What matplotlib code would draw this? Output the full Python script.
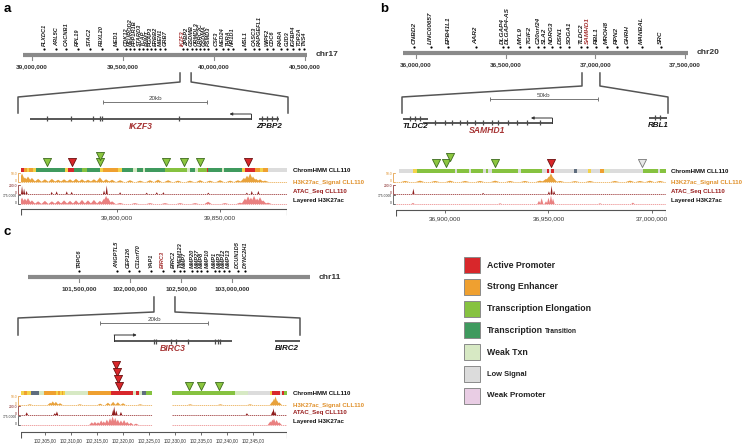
#!/usr/bin/env python3
"""
Chromatin state / signal track figure for the IKZF3 (a), SAMHD1 (b) and
BIRC3 (c) loci in CLL110, redrawn with matplotlib. Saves out.png.
"""

import matplotlib
matplotlib.use("Agg")
import matplotlib.pyplot as plt
from matplotlib.patches import Rectangle

plt.rcParams['font.family'] = ['Liberation Sans', 'DejaVu Sans']

W, H = 745, 444

# chromatin states (legend order)
STATE_NAMES = ["Active Promoter", "Strong Enhancer", "Transcription Elongation",
               "Transcription Transition", "Weak Txn", "Low Signal", "Weak Promoter"]
STATE_KEYS = ["AP", "SE", "TE", "TT", "WT", "LS", "WP"]
STATE_COLORS = {"AP": "#d8272b", "SE": "#efa030", "TE": "#86c240", "TT": "#3f9a5e",
                "WT": "#d7e9c4", "LS": "#dcdcdc", "WP": "#e9cde4",
                "WE": "#f3d34a", "OT": "#5f6d7e"}
MARK_COLORS = {"g": ("#8cc63f", "#3d6b1f"), "r": ("#d9262a", "#6b0f0f"),
               "n": ("#e8e8e8", "#777777")}
FOCUS = "#a73535"
H3_COL, ATAC_COL, LAY_COL = "#e8a23c", "#8e1b1b", "#e98080"

# ---------------- panel a : chr17 / IKZF3 ----------------
a_chrom = "chr17"
a_chrom_span = (38.950, 40.511)  # Mb
a_chrom_ticks = [39.0, 39.5, 40.0, 40.5]
a_chrom_tick_labels = ["39,000,000", "39,500,000", "40,000,000", "40,500,000"]
a_genes = ["PLXDC1", "ARL5C", "CACNB1", "RPL19", "STAC2", "FBXL20", "MED1", "CDK12",
           "NEUROD2", "PPP1R1B", "STARD3", "TCAP", "PNMT", "PGAP3", "ERBB2", "MIEN1",
           "GRB7", "IKZF3", "ZPBP2", "GSDMB", "ORMDL3", "LRRC3C", "GSDMA", "PSMD3",
           "CSF3", "MED24", "THRA", "NR1D1", "MSL1", "CASC3", "RAPGEFL1", "WIPF2",
           "CDC6", "RARA", "GJD3", "IGFBP4", "TOP2A", "TNS4"]
a_gene_pos = [39.068, 39.132, 39.185, 39.251, 39.317, 39.383, 39.465, 39.516,
              39.538, 39.562, 39.590, 39.611, 39.632, 39.652, 39.677, 39.703,
              39.731, 39.828, 39.850, 39.877, 39.901, 39.923, 39.945, 39.969,
              40.011, 40.048, 40.075, 40.103, 40.170, 40.220, 40.249, 40.289,
              40.322, 40.366, 40.403, 40.436, 40.469, 40.496]
a_focus = "IKZF3"
a_window = (39.813, 39.874)

a_view_span = (0.0, 51.9)  # kb, gene model view
a_scalebar = (16.35, 36.35, "20kb")
a_models = [
    dict(name="IKZF3", start=2.31, end=44.81, exons=[5.58, 10.19, 14.42, 15.77, 16.15, 30.96],
         tss=44.81, strand=-1),
    dict(name="ZPBP2", start=46.34, end=50.19, exons=[46.9, 47.9, 48.8, 49.8],
         tss=None, strand=1),
]

a_track_span = (39753.4, 39882.5)  # kb
a_track_ticks = [39800, 39850]
a_track_tick_labels = ["39,800,000", "39,850,000"]
a_segments = [
    (39753.4, 39755.0, "AP"), (39755.0, 39756.2, "SE"), (39756.2, 39757.3, "WE"),
    (39757.3, 39759.2, "SE"), (39759.2, 39760.5, "WE"), (39760.5, 39774.8, "TT"),
    (39774.8, 39776.1, "WE"), (39776.1, 39779.3, "AP"), (39779.3, 39782.9, "TT"),
    (39782.9, 39785.3, "TE"), (39785.3, 39791.7, "TT"), (39791.7, 39793.3, "WE"),
    (39793.3, 39800.6, "SE"), (39800.6, 39802.3, "WE"), (39802.3, 39807.9, "TT"),
    (39807.9, 39809.6, "WT"), (39809.6, 39812.8, "TT"), (39812.8, 39813.6, "WT"),
    (39813.6, 39823.3, "TT"), (39823.3, 39833.8, "TE"), (39833.8, 39835.4, "WT"),
    (39835.4, 39837.9, "TT"), (39837.9, 39839.2, "WT"), (39839.2, 39843.5, "TE"),
    (39843.5, 39844.3, "AP"), (39844.3, 39850.8, "TT"), (39850.8, 39852.1, "WT"),
    (39852.1, 39860.5, "TT"), (39860.5, 39862.1, "WE"), (39862.1, 39867.0, "AP"),
    (39867.0, 39869.4, "SE"), (39869.4, 39871.0, "WE"), (39871.0, 39873.4, "SE"),
    (39873.4, 39882.4, "LS"),
]
a_marks = [(39765.9, 0, "g"), (39778.0, 0, "r"), (39791.7, 0, "g"), (39791.7, 1, "g"),
           (39823.8, 0, "g"), (39832.7, 0, "g"), (39840.3, 0, "g"), (39863.7, 0, "r")]
a_h3_pos = [39753.9, 39755.3, 39756.8, 39758.7, 39761.7, 39765.0, 39768.4, 39771.4,
            39774.3, 39777.2, 39780.1, 39783.0, 39785.9, 39788.8, 39791.7, 39794.7,
            39797.6, 39801.5, 39806.3, 39811.2, 39816.0, 39819.9, 39824.8, 39829.6,
            39835.4, 39840.3, 39845.1, 39850.0, 39854.9, 39858.7, 39861.6, 39863.1,
            39864.6, 39866.0, 39867.5, 39869.4, 39871.8]
a_h3_val = [0.95, 0.5, 0.6, 0.45, 0.35, 0.3, 0.35, 0.25, 0.3, 0.3, 0.35, 0.3, 0.25, 0.3,
            0.5, 0.3, 0.25, 0.2, 0.2, 0.15, 0.2, 0.25, 0.2, 0.15, 0.15, 0.2, 0.15, 0.2,
            0.15, 0.2, 0.45, 0.7, 0.95, 0.6, 0.35, 0.3, 0.15]
a_atac_pos = [39753.9, 39754.9, 39756.1, 39768.3, 39770.7, 39775.6, 39778.0, 39793.7,
              39795.0, 39801.5, 39814.4, 39819.3, 39822.5, 39844.3, 39863.0, 39865.4,
              39868.6]
a_atac_val = [0.9, 0.6, 0.35, 0.25, 0.3, 0.3, 0.25, 0.4, 0.95, 0.2, 0.15, 0.2, 0.2, 0.15,
              0.15, 0.35, 0.35]
a_lay_pos = [39753.9, 39755.3, 39756.8, 39758.7, 39761.7, 39765.0, 39768.4, 39771.4,
             39774.3, 39777.2, 39780.1, 39783.0, 39785.9, 39788.8, 39791.7, 39793.7,
             39794.7, 39795.6, 39797.6, 39801.5, 39808.7, 39816.0, 39823.3, 39830.6,
             39837.9, 39844.2, 39852.4, 39859.7, 39862.1, 39863.6, 39865.0, 39866.5,
             39868.0, 39869.4, 39870.9, 39873.3]
a_lay_val = [0.7, 0.6, 0.65, 0.4, 0.3, 0.35, 0.3, 0.35, 0.4, 0.35, 0.4, 0.45, 0.4, 0.45,
             0.35, 0.6, 0.9, 0.7, 0.3, 0.12, 0.1, 0.1, 0.1, 0.1, 0.1, 0.25, 0.1, 0.15,
             0.6, 0.85, 0.7, 0.9, 0.6, 0.75, 0.4, 0.15]

# ---------------- panel b : chr20 / SAMHD1 ----------------
b_chrom = "chr20"
b_chrom_span = (35.928, 37.517)
b_chrom_ticks = [36.0, 36.5, 37.0, 37.5]
b_chrom_tick_labels = ["36,000,000", "36,500,000", "37,000,000", "37,500,000"]
b_genes = ["CNBD2", "LINC00657", "EPB41L1", "AAR2", "DLGAP4", "DLGAP4-AS", "MYL9",
           "TGIF2", "C20orf24", "SLA2", "NDRG3", "DSN1", "SOGA1", "TLDC2", "SAMHD1",
           "RBL1", "MROH8", "RPN2", "GHRH", "MANBAL", "SRC"]
b_gene_pos = [35.991, 36.082, 36.180, 36.335, 36.483, 36.511, 36.580, 36.630, 36.679,
              36.714, 36.757, 36.803, 36.855, 36.918, 36.955, 37.004, 37.063, 37.119,
              37.178, 37.259, 37.366]
b_focus = "SAMHD1"
b_window = (36.926, 37.026)

b_view_span = (0.0, 123.1)
b_scalebar = (40.7, 90.7, "50kb")
b_models = [
    dict(name="TLDC2", start=0.46, end=12.0, exons=[3.7, 6.0, 8.3], tss=None, strand=1),
    dict(name="SAMHD1", start=9.7, end=69.5,
         exons=[15.3, 19.9, 23.0, 26.9, 30.0, 33.8, 37.6, 41.5, 44.6, 49.2, 53.1, 57.7, 63.9],
         tss=69.5, strand=-1),
    dict(name="RBL1", start=114.4, end=122.7, exons=[117.1, 119.4], tss=None, strand=-1),
]

b_track_span = (36876.3, 37006.8)
b_track_ticks = [36900, 36950, 37000]
b_track_tick_labels = ["36,900,000", "36,950,000", "37,000,000"]
b_segments = [
    (36877.9, 36884.7, "LS"), (36884.7, 36886.3, "WE"), (36886.3, 36904.8, "TE"),
    (36904.8, 36905.7, "LS"), (36905.7, 36911.7, "TE"), (36911.7, 36912.6, "LS"),
    (36912.6, 36918.5, "TE"), (36918.5, 36919.8, "LS"), (36919.8, 36920.9, "TE"),
    (36920.9, 36922.6, "LS"), (36922.6, 36935.4, "TE"), (36935.4, 36936.6, "LS"),
    (36936.6, 36946.7, "TE"), (36946.7, 36949.1, "LS"), (36949.1, 36950.4, "AP"),
    (36950.4, 36951.4, "LS"), (36951.4, 36952.7, "AP"), (36952.7, 36962.5, "LS"),
    (36962.5, 36963.6, "OT"), (36963.6, 36969.2, "LS"), (36969.2, 36970.4, "WE"),
    (36970.4, 36974.9, "LS"), (36974.9, 36976.8, "SE"), (36976.8, 36979.7, "WT"),
    (36979.7, 36995.8, "LS"), (36995.8, 37003.0, "TE"), (37003.0, 37003.9, "LS"),
    (37003.9, 37006.8, "TE"),
]
b_marks = [(36895.7, 0, "g"), (36900.5, 0, "g"), (36902.4, 1, "g"), (36924.2, 0, "g"),
           (36951.2, 0, "r"), (36995.2, 0, "n")]
b_h3_pos = [36880.7, 36887.9, 36895.2, 36902.4, 36909.7, 36916.9, 36924.2, 36931.4,
            36938.6, 36945.9, 36948.8, 36950.2, 36951.2, 36952.2, 36955.6, 36962.8,
            36970.0, 36982.1, 36989.4, 36994.2, 36999.0, 37003.9]
b_h3_val = [0.12, 0.15, 0.12, 0.15, 0.12, 0.12, 0.15, 0.12, 0.12, 0.15, 0.35, 0.6, 0.95,
            0.5, 0.12, 0.1, 0.12, 0.12, 0.15, 0.12, 0.15, 0.12]
b_atac_pos = [36884.7, 36918.4, 36950.2, 36951.5, 36952.7]
b_atac_val = [0.6, 0.12, 0.3, 0.95, 0.35]
b_lay_pos = [36884.5, 36926.6, 36945.4, 36946.7, 36948.8, 36950.0, 36951.2, 36952.2,
             36974.9, 36990.8]
b_lay_val = [0.12, 0.08, 0.35, 0.65, 0.3, 0.7, 0.95, 0.6, 0.08, 0.15]

# ---------------- panel c : chr11 / BIRC3 ----------------
c_chrom = "chr11"
c_chrom_span = (101.0, 103.765)
c_chrom_ticks = [101.5, 102.0, 102.5, 103.0]
c_chrom_tick_labels = ["101,500,000", "102,000,000", "102,500,00", "103,000,000"]
c_genes = ["TRPC6", "ANGPTL5", "CEP126", "C11orf70", "YAP1", "BIRC3", "BIRC2", "TMEM123",
           "MMP7", "MMP20", "MMP27", "MMP8", "MMP10", "MMP1", "MMP3", "MMP12", "MMP13",
           "DCUN1D5", "DYNC2H1"]
c_gene_pos = [101.503, 101.873, 101.987, 102.085, 102.209, 102.320, 102.428, 102.493,
              102.533, 102.608, 102.657, 102.696, 102.755, 102.830, 102.876, 102.918,
              102.967, 103.055, 103.131]
c_focus = "BIRC3"
c_window = (102.235, 102.441)

c_view_span = (0.0, 52.2)
c_scalebar = (15.2, 35.2, "20kb")
c_models = [
    dict(name="BIRC3", start=17.8, end=39.6,
         exons=[25.2, 25.5, 28.4, 29.2, 31.5, 36.4, 37.0, 37.4], tss=17.8, strand=1),
    dict(name="BIRC2", start=47.5, end=52.2, exons=[], tss=None, strand=1),
]

c_track_span = (102300.4, 102351.5)
c_track_ticks = [102305, 102310, 102315, 102320, 102325, 102330, 102335, 102340, 102345]
c_track_tick_labels = ["102,305,00", "102,310,00", "102,315,00", "102,320,00", "102,325,00",
                       "102,330,00", "102,335,00", "102,340,00", "102,345,00"]
c_nodata = [(102325.5, 102329.4)]
c_segments = [
    (102300.4, 102301.0, "WE"), (102301.0, 102301.5, "SE"), (102301.5, 102302.3, "WE"),
    (102302.3, 102303.8, "OT"), (102303.8, 102304.9, "WT"), (102304.9, 102307.2, "SE"),
    (102307.2, 102307.6, "WE"), (102307.6, 102307.9, "SE"), (102307.9, 102308.2, "WE"),
    (102308.2, 102308.5, "SE"), (102308.5, 102308.8, "WE"), (102308.8, 102313.2, "WT"),
    (102313.2, 102317.7, "SE"), (102317.7, 102322.0, "AP"), (102322.0, 102322.4, "WT"),
    (102322.4, 102323.1, "AP"), (102323.1, 102323.6, "WT"), (102323.6, 102324.4, "OT"),
    (102324.4, 102325.5, "TE"), (102329.4, 102341.5, "TE"), (102341.5, 102344.1, "WT"),
    (102344.1, 102348.3, "LS"), (102348.3, 102348.7, "WE"), (102348.7, 102350.2, "AP"),
    (102350.2, 102350.6, "LS"), (102350.6, 102351.0, "AP"), (102351.0, 102351.5, "TE"),
]
c_marks = [(102318.7, 3, "r"), (102318.8, 2, "r"), (102319.0, 1, "r"), (102319.2, 0, "r"),
           (102332.7, 0, "g"), (102335.0, 0, "g"), (102338.5, 0, "g")]
c_h3_pos = [102302.1, 102306.0, 102306.5, 102307.1, 102307.9, 102311.7, 102315.6, 102317.1,
            102318.1, 102319.0, 102320.0, 102323.3, 102332.9, 102338.7, 102344.4, 102348.7,
            102349.0, 102349.3, 102349.6, 102350.0]
c_h3_val = [0.08, 0.25, 0.4, 0.35, 0.2, 0.08, 0.15, 0.25, 0.35, 0.3, 0.2, 0.08, 0.08,
            0.08, 0.08, 0.4, 0.7, 0.95, 0.5, 0.3]
c_atac_pos = [102301.5, 102306.9, 102307.3, 102318.1, 102318.3, 102318.7, 102319.6,
              102343.8, 102348.7, 102348.9, 102349.2]
c_atac_val = [0.3, 0.2, 0.4, 0.6, 0.95, 0.5, 0.35, 0.2, 0.4, 0.75, 0.4]
c_lay_pos = [102314.0, 102314.6, 102315.2, 102315.8, 102316.3, 102316.9, 102317.5,
             102318.0, 102318.5, 102319.0, 102319.6, 102320.2, 102320.8, 102321.5,
             102322.5, 102348.3, 102348.7, 102349.0, 102349.5, 102350.0]
c_lay_val = [0.3, 0.35, 0.3, 0.5, 0.4, 0.6, 0.75, 0.95, 0.8, 0.6, 0.5, 0.55, 0.35, 0.25,
             0.15, 0.4, 0.6, 0.7, 0.55, 0.3]

track_names = ["ChromHMM CLL110", "H3K27ac_Signal CLL110", "ATAC_Seq CLL110", "Layered H3K27ac"]
track_name_colors = ["#111111", "#e0902a", "#9a2020", "#111111"]
track_scales = ["50.0", "200.0", "175.0000"]


fig = plt.figure(figsize=(W / 100, H / 100), dpi=100)


def pane(x0, x1, span):
    """Axes covering pixel columns x0..x1, x in data units, y in image pixels."""
    ax = fig.add_axes([x0 / W, 0, (x1 - x0) / W, 1])
    ax.set_xlim(*span)
    ax.set_ylim(H, 0)
    ax.axis('off')
    return ax


def chromosome(ax, y, genes, pos, focus, ticks, labels, name, fs):
    lo, hi = ax.get_xlim()
    ax.plot([lo, hi], [y, y], color='#8a8a8a', lw=3, solid_capstyle='butt')
    ax.scatter(pos, [y - 6] * len(pos), s=2.5, color='black', zorder=3, lw=0)
    for g, p in zip(genes, pos):
        ax.text(p, y - 9, g, rotation=90, ha='center', va='bottom', fontsize=fs,
                style='italic', fontweight='bold', color=FOCUS if g == focus else '#222')
    for t, l in zip(ticks, labels):
        ax.plot([t, t], [y + 2, y + 5], color='#8a8a8a', lw=0.8)
        ax.text(t, y + 12, l, ha='center', va='center', fontsize=4.6,
                fontweight='bold', color='#333')
    ax.annotate(name, xy=(hi, y), xytext=(6, 0), textcoords='offset points',
                ha='left', va='center', fontsize=6, fontweight='bold', color='#333')


def gene_view(ax, models, rows, arrow_rows, focus, scalebar, scale_y):
    lo, hi = ax.get_xlim()
    s0, s1, lab = scalebar
    ax.plot([s0, s1], [scale_y, scale_y], color='#777', lw=0.7)
    ax.vlines([s0, s1], scale_y - 2, scale_y + 2, color='#777', lw=0.7)
    ax.text((s0 + s1) / 2, scale_y - 1, lab, ha='center', va='bottom', fontsize=4.5,
            color='#444')
    for m in models:
        y = rows[m['name']]
        ax.plot([m['start'], m['end']], [y, y], color='#4a4a4a', lw=1.3,
                solid_capstyle='butt')
        if m['exons']:
            ax.vlines(m['exons'], y - 2.5, y + 2.5, color='#4a4a4a', lw=0.9)
        if m['tss'] is not None:
            ya = arrow_rows[m['name']]
            tip = m['tss'] + m['strand'] * 0.08 * (hi - lo)
            ax.plot([m['tss'], m['tss']], [y, ya], color='#333', lw=0.7)
            ax.annotate('', xy=(tip, ya), xytext=(m['tss'], ya),
                        arrowprops=dict(arrowstyle='-|>', lw=0.7, color='#333',
                                        mutation_scale=4, shrinkA=0, shrinkB=0))
        is_focus = m['name'] == focus
        ax.text((m['start'] + m['end']) / 2, y + 7.5, m['name'], ha='center', va='center',
                fontsize=6.2 if is_focus else 5.8, fontweight='bold', style='italic',
                color=FOCUS if is_focus else '#111')


def signal(ax, pos, vals, base, height, color, hw, gaps):
    lo, hi = ax.get_xlim()
    edges = [lo] + [v for g in gaps for v in g] + [hi]
    for s, e in zip(edges[::2], edges[1::2]):
        ax.plot([s, e], [base, base], color=color, lw=0.5, ls=(0, (2, 1)))
    for p, v in zip(pos, vals):
        ax.fill([p - hw, p, p + hw], [base, base - v * height, base], color=color, lw=0)


def tracks(ax, lay, segments, marks, sig, hws, ticks, labels, gaps=()):
    lo, hi = ax.get_xlim()
    y = lay['bar']
    for s, e, k in segments:
        ax.broken_barh([(s, e - s)], (y - 2, 4), facecolors=STATE_COLORS[k], lw=0)
    for p, lvl, kind in marks:
        fc, ec = MARK_COLORS[kind]
        ax.scatter([p], [y - 7.5 - 6.7 * lvl], marker='v', s=34, c=fc, edgecolors=ec,
                   linewidths=0.6, zorder=4)
    bases = [lay['h3'], lay['atac'], lay['lay']]
    cols = [H3_COL, ATAC_COL, LAY_COL]
    for (pos, vals), base, col, hw in zip(sig, bases, cols, hws):
        signal(ax, pos, vals, base, 9, col, hw, gaps)
    r = lay['ruler']
    ax.plot([lo, hi], [r, r], color='#555', lw=0.8)
    ax.vlines([lo, hi], r, r + 6, color='#555', lw=0.8)
    ax.vlines(ticks, r, r + 3, color='#555', lw=0.6)
    fs = 4.6 if len(ticks) < 5 else 3.3
    for t, l in zip(ticks, labels):
        ax.text(t, r + 8.5, l, ha='center', va='center', fontsize=fs, color='#333')


over = fig.add_axes([0, 0, 1, 1])
over.set_xlim(0, W)
over.set_ylim(H, 0)
over.axis('off')


def xpx(ax, x):
    return over.transData.inverted().transform(ax.transData.transform((x, 0)))[0]


def connectors(chrom_ax, window, view_ax, ys):
    lo, hi = view_ax.get_xlim()
    y1, y2, y3, y4 = ys
    for w, v in ((window[0], lo), (window[1], hi)):
        wx, vx = xpx(chrom_ax, w), xpx(view_ax, v)
        over.plot([wx, wx, vx, vx], [y1, y2, y3, y4], color='#555', lw=1.1)


def track_labels(x, lay, left):
    ys = [lay['bar'], lay['h3'], lay['atac'] - 3, lay['lay'] - 4]
    for name, c, yy in zip(track_names, track_name_colors, ys):
        over.text(x, yy, name, ha='left', va='center', fontsize=4.4, fontweight='bold',
                  color=c)
    bases = [lay['h3'], lay['atac'], lay['lay']]
    cols = ["#e0902a", "#7a1515", "#333"]
    for lab, base, c in zip(track_scales, bases, cols):
        over.plot([left - 1, left - 3, left - 3, left - 1], [base - 9, base - 9, base, base],
                  color=c, lw=0.5)
        over.text(left - 4, base - 8, lab, ha='right', va='center', fontsize=2.4, color=c)
        over.text(left - 4, base - 1, "0", ha='right', va='center', fontsize=2.4, color=c)


panels = [
    dict(chrom=(23, 307, a_chrom_span, 55, a_genes, a_gene_pos, a_focus, a_chrom_ticks,
                a_chrom_tick_labels, a_chrom, 4.1),
         view=(18, 288, a_view_span, a_models, {"IKZF3": 119, "ZPBP2": 119},
               {"IKZF3": 114}, a_focus, a_scalebar, 102),
         conn=(a_window, (73, 82, 97, 113)),
         track=(21, 287, a_track_span, dict(bar=170, h3=182, atac=194, lay=204, ruler=209),
                a_segments, a_marks,
                [(a_h3_pos, a_h3_val), (a_atac_pos, a_atac_val), (a_lay_pos, a_lay_val)],
                (1.8, 0.5, 1.7), a_track_ticks, a_track_tick_labels, ()),
         label_x=293),
    dict(chrom=(403, 688, b_chrom_span, 53, b_genes, b_gene_pos, b_focus, b_chrom_ticks,
                b_chrom_tick_labels, b_chrom, 4.6),
         view=(402, 668, b_view_span, b_models, {"TLDC2": 119, "SAMHD1": 123, "RBL1": 118},
               {"SAMHD1": 118}, b_focus, b_scalebar, 99),
         conn=(b_window, (73, 86, 97, 113)),
         track=(396, 666, b_track_span, dict(bar=171, h3=182, atac=194, lay=204, ruler=210),
                b_segments, b_marks,
                [(b_h3_pos, b_h3_val), (b_atac_pos, b_atac_val), (b_lay_pos, b_lay_val)],
                (2.0, 0.5, 0.8), b_track_ticks, b_track_tick_labels, ()),
         label_x=671),
    dict(chrom=(28, 310, c_chrom_span, 277, c_genes, c_gene_pos, c_focus, c_chrom_ticks,
                c_chrom_tick_labels, c_chrom, 4.1),
         view=(18, 300, c_view_span, c_models, {"BIRC3": 341, "BIRC2": 341},
               {"BIRC3": 335}, c_focus, c_scalebar, 323),
         conn=(c_window, (297, 312, 318, 335)),
         track=(21, 287, c_track_span, dict(bar=393, h3=405, atac=415, lay=425, ruler=432),
                c_segments, c_marks,
                [(c_h3_pos, c_h3_val), (c_atac_pos, c_atac_val), (c_lay_pos, c_lay_val)],
                (0.5, 0.25, 0.5), c_track_ticks, c_track_tick_labels, c_nodata),
         label_x=293),
]

for p in panels:
    x0, x1, span, y, genes, pos, focus, ticks, labels, name, gfs = p['chrom']
    cax = pane(x0, x1, span)
    chromosome(cax, y, genes, pos, focus, ticks, labels, name, gfs)

    vx0, vx1, vspan, models, rows, arrows, vfocus, sbar, sy = p['view']
    vax = pane(vx0, vx1, vspan)
    gene_view(vax, models, rows, arrows, vfocus, sbar, sy)

    window, ys = p['conn']
    connectors(cax, window, vax, ys)

    tx0, tx1, tspan, lay, segs, marks, sig, hws, tt, tl, gaps = p['track']
    tax = pane(tx0, tx1, tspan)
    tracks(tax, lay, segs, marks, sig, hws, tt, tl, gaps)
    track_labels(p['label_x'], lay, tx0)

# panel letters
for letter, (lx, ly) in zip("abc", [(7, 9), (384, 9), (7, 232)]):
    over.text(lx, ly, letter, ha='center', va='center', fontsize=9.5, fontweight='bold')

# legend
leg_x, leg_y0, leg_dy = 464, 265, 21.8
leg_sizes = [6.3, 6.3, 6.3, 6.3, 6.3, 5.4, 5.8]
renderer = fig.canvas.get_renderer()
for i, (key, label) in enumerate(zip(STATE_KEYS, STATE_NAMES)):
    yy = leg_y0 + i * leg_dy
    over.add_patch(Rectangle((leg_x, yy - 8), 16, 16, facecolor=STATE_COLORS[key],
                             edgecolor='#8a8a8a', lw=0.7))
    if label == "Transcription Transition":
        first, second = label.split(" ")
        t = over.text(leg_x + 23, yy, first, ha='left', va='center',
                      fontsize=leg_sizes[i], fontweight='bold', color='#222')
        bb = t.get_window_extent(renderer)
        x_end = over.transData.inverted().transform((bb.x1, 0))[0]
        over.text(x_end + 2, yy + 0.8, second, ha='left', va='center', fontsize=4.8,
                  fontweight='bold', color='#222')
    else:
        over.text(leg_x + 23, yy, label, ha='left', va='center', fontsize=leg_sizes[i],
                  fontweight='bold', color='#222')

fig.savefig("out.png", dpi=100)
